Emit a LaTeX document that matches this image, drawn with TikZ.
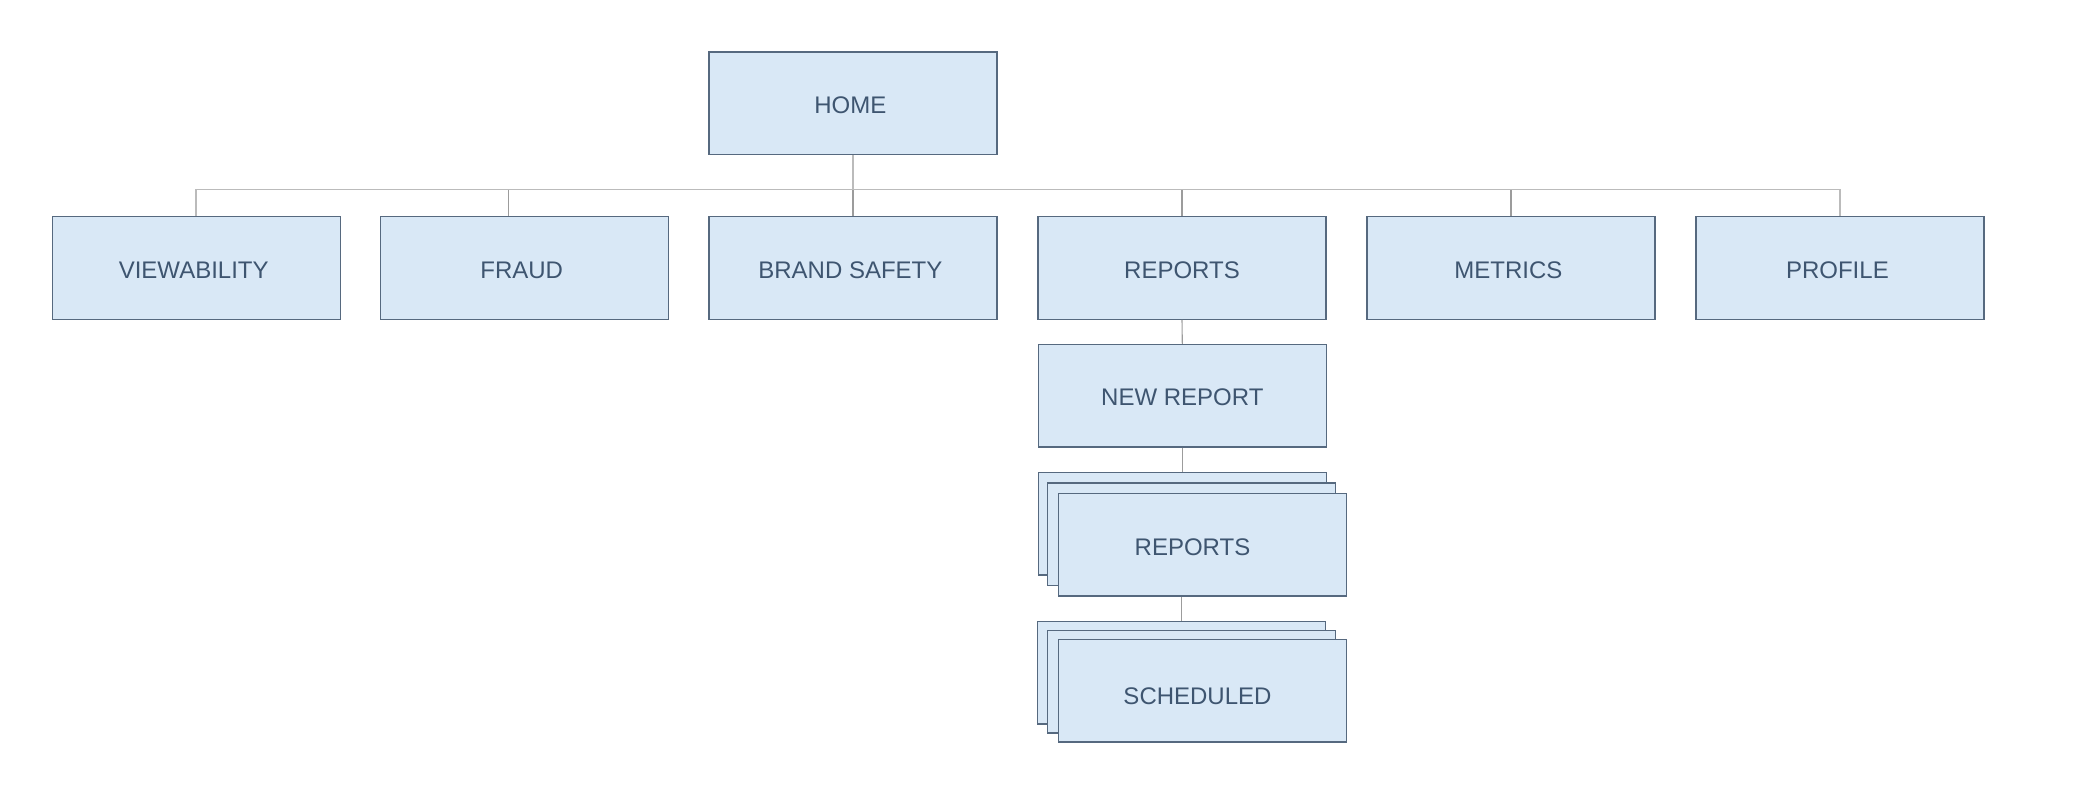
\documentclass[tikz,border=0pt]{standalone}
\usepackage{fontspec}
\setmainfont{Liberation Sans}
\usetikzlibrary{calc}
\definecolor{boxfill}{HTML}{D9E8F6}
\definecolor{boxline}{HTML}{56697F}
\definecolor{boxtext}{HTML}{3E5570}
\definecolor{busgray}{HTML}{BBBBBB}
\definecolor{dropgray}{HTML}{9C9C9C}
\begin{document}
\begin{tikzpicture}[x=0.5pt,y=-0.5pt,
  pagebox/.style={draw=boxline,fill=boxfill,line width=0.6pt,rectangle,
    minimum width=144pt,minimum height=51.25pt,inner sep=0pt,
    text=boxtext,font=\fontsize{12}{14}\selectfont,text height=10.1pt,text depth=0pt},
  leftbox/.style={pagebox,execute at end node=\hspace*{2.6pt}},
  pagelabel/.style={inner sep=0pt,text=boxtext,font=\fontsize{12}{14}\selectfont,text height=8.25pt,text depth=0pt},
  busline/.style={draw=busgray,line width=0.9pt},
  dropline/.style={draw=dropgray,line width=0.55pt}]
\useasboundingbox (0,0) rectangle (2077,788);
% top
\node[leftbox] (home) at (853,103.2) {HOME};
% first level
\node[leftbox] (view) at (196.3,268) {VIEWABILITY};
\node[leftbox] (fraud) at (524.3,268) {FRAUD};
\node[leftbox] (brand) at (853,268) {BRAND SAFETY};
\node[pagebox] (reports) at (1182,268) {REPORTS};
\node[leftbox] (metrics) at (1511,268) {METRICS};
\node[leftbox] (profile) at (1840,268) {PROFILE};
% reports branch
\node[pagebox] (newrep) at (1182.3,395.8) {NEW REPORT};
\node[pagebox] (repback) at (1182.3,523.8) {};
\node[pagebox] (repmid) at (1191.5,534.2) {};
\node[pagebox] (repfront) at (1202.5,544.8) {};
\node[pagelabel] (replabel) at (1192.5,547.5) {REPORTS};
\node[pagebox] (schback) at (1181.5,672.8) {};
\node[pagebox] (schmid) at (1191.5,681.8) {};
\node[pagebox] (schfront) at (1202.5,690.8) {};
\node[pagelabel] (schlabel) at (1197.5,696) {SCHEDULED};
% connectors
\coordinate (bus) at (0,189.5);
\draw[busline] (view.north) -- (view.north |- bus) -- (profile.north |- bus) -- (profile.north);
\draw[busline] (home.south) -- (home.south |- bus);
\coordinate (fraudtop) at ($(fraud.north)+(-16,0)$);
\draw[dropline] (fraudtop) -- (fraudtop |- bus);
\draw[dropline] (brand.north) -- (brand.north |- bus);
\draw[dropline] (reports.north) -- (reports.north |- bus);
\draw[dropline] (metrics.north) -- (metrics.north |- bus);
\draw[dropline] (reports.south) -- (newrep.north);
\draw[dropline] (newrep.south) -- (repback.north);
\draw[dropline] (schback.north) -- (schback.north |- repfront.south);
\end{tikzpicture}
\end{document}
